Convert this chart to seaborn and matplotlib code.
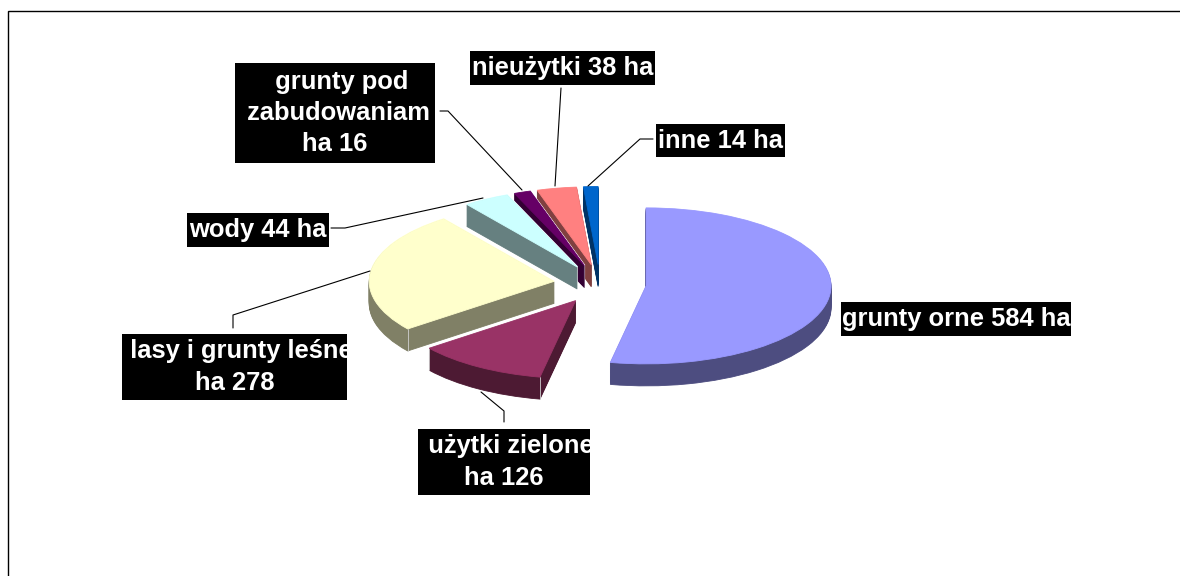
import matplotlib
matplotlib.use('Agg')
import matplotlib.pyplot as plt
import numpy as np
import seaborn as sns
from matplotlib.patches import Rectangle

sns.set_theme(style="white")
plt.rcParams['font.family'] = ['Liberation Sans', 'DejaVu Sans']

# powierzchnia w ha, zgodnie z ruchem wskazowek od gory
categories = ["grunty orne", "użytki zielone", "lasy i grunty leśne", "wody",
              "grunty pod zabudowaniami", "nieużytki", "inne"]
values = [584, 126, 278, 44, 16, 38, 14]
top_colors = ["#9999FF", "#993366", "#FFFFCC", "#CCFFFF", "#660066", "#FF8080", "#0066CC"]
label_texts = ["grunty orne 584 ha", "  użytki zielone\nha 126", "  lasy i grunty leśne\nha 278",
               "wody 44 ha", "  grunty pod\n zabudowaniam\nha 16", "nieużytki 38 ha", "inne 14 ha"]

W, H = 1180, 576
CX, CY = 600.0, 284.0   # srodek kola w pikselach
RX, RY = 185.0, 78.0    # polosie elipsy
DEPTH = 22 / RY
EXPLODE = 0.25

# kolejnosc rysowania: od tylu do przodu
draw_rank = [6, 5, 4, 3, 2, 1, 0]
# x0, y0, x1, y1 czarnego pola opisu
boxes = [(841, 302, 1071, 336), (418, 429, 590, 495), (122, 334, 347, 400),
         (187, 213, 329, 247), (235, 63, 435, 163), (470, 51, 655, 85), (656, 124, 785, 157)]
leaders = [None,
           [(504, 422), (504, 411), (481, 392)],
           [(233, 328), (233, 315), (370, 271)],
           [(331, 228), (345, 228), (483, 198)],
           [(440, 111), (448, 111), (522, 190)],
           [(561, 88), (555, 186)],
           [(653, 139), (640, 139), (588, 186)]]

fig = plt.figure(figsize=(W / 100, H / 100), dpi=100)
ax = fig.add_axes([0, 0, 1, 1])


def draw_pie(colors, dy, z_offset, edge=None, lw=0.6):
    wedges, _ = ax.pie(values, startangle=90, counterclock=False, colors=colors,
                       explode=[EXPLODE] * len(values), center=(0, dy),
                       wedgeprops={"linewidth": lw})
    for i, w in enumerate(wedges):
        w.set_edgecolor(edge if edge else colors[i])
        w.set_zorder(draw_rank[i] + z_offset)
    return wedges


side_colors = [tuple(c * 0.5 for c in rgb) for rgb in sns.color_palette(top_colors)]
layers = np.linspace(-DEPTH, 0, 24)
for dy in layers:
    draw_pie(["white"] * len(values), dy, 0.0, edge="white", lw=1.4)
for k, dy in enumerate(layers[:-1]):
    draw_pie(side_colors, dy, 0.1 + 0.5 * k / len(layers))
top_wedges = draw_pie(top_colors, 0.0, 0.8)

# jasne krawedzie na przednich rogach scianek
for i, w in enumerate(top_wedges):
    for theta in (w.theta1, w.theta2):
        x = w.center[0] + np.cos(np.radians(theta))
        y = w.center[1] + np.sin(np.radians(theta))
        if y < -0.3 and i != 0:
            ax.plot([x, x], [y, y - DEPTH], color="#D0D0D0", lw=0.6, zorder=draw_rank[i] + 0.7)

ax.set_aspect('auto')
ax.set_xlim(-CX / RX, (W - CX) / RX)
ax.set_ylim((CY - H) / RY, CY / RY)
ax.axis('off')

# opisy i linie w ukladzie pikseli
ov = fig.add_axes([0, 0, 1, 1], facecolor='none')
ov.set_xlim(0, W)
ov.set_ylim(H, 0)
ov.axis('off')

ov.plot([7.5, 7.5, W], [H, 10.5, 10.5], color="black", lw=1.0, solid_joinstyle='miter')

for box, text, line in zip(boxes, label_texts, leaders):
    x0, y0, x1, y1 = box
    rect = Rectangle((x0, y0), x1 - x0, y1 - y0, facecolor="black", edgecolor="none")
    ov.add_patch(rect)
    t = ov.text((x0 + x1) / 2, (y0 + y1) / 2, text, color="white", fontsize=18.4, fontweight="bold",
                ha="center", va="center", linespacing=1.37, clip_on=True)
    t.set_clip_path(rect)
    if line:
        xs, ys = zip(*line)
        ov.plot(xs, ys, color="black", lw=0.8)

plt.savefig("out.png", dpi=100)
plt.close()
